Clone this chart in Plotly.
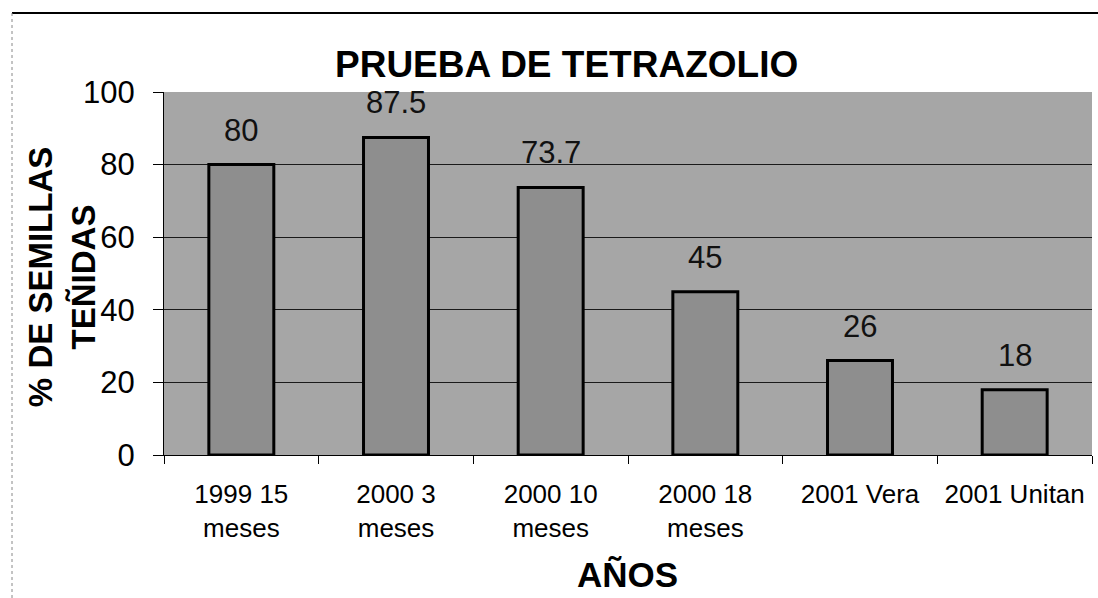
import plotly.graph_objects as go

categories = ["1999 15<br>meses", "2000 3<br>meses", "2000 10<br>meses", "2000 18<br>meses", "2001 Vera", "2001 Unitan"]
values = [80, 87.5, 73.7, 45, 26, 18]
labels = ["80", "87.5", "73.7", "45", "26", "18"]
y_ticks = [0, 20, 40, 60, 80, 100]

W, H = 1098, 598
L, R, T, B = 164, 6, 92, 143
PW, PH = W - L - R, H - T - B

fig = go.Figure(go.Bar(
    x=categories, y=values,
    marker=dict(color="#8e8e8e", line=dict(color="#000", width=3)),
    width=0.42,
))

for c, v, t in zip(categories, values, labels):
    fig.add_annotation(x=c, y=v, text=t, showarrow=False, yanchor="bottom", yshift=15,
                       font=dict(family="Liberation Sans, Arial", size=31, color="#111"))

fig.update_layout(
    width=W, height=H,
    margin=dict(l=L, r=R, t=T, b=B),
    paper_bgcolor="white", plot_bgcolor="#a6a6a6",
    showlegend=False,
    font=dict(family="Liberation Sans, Arial", color="#000"),
)
fig.add_annotation(text="<b>PRUEBA DE TETRAZOLIO</b>", xref="paper", yref="paper",
                   x=(566 - L) / PW, y=(H - B - 64) / PH, showarrow=False,
                   xanchor="center", yanchor="middle",
                   font=dict(family="Liberation Sans, Arial", size=37, color="#000"))
fig.add_annotation(text="<b>% DE SEMILLAS<br>TEÑIDAS</b>", xref="paper", yref="paper",
                   x=(62 - L) / PW, y=0.49, showarrow=False, textangle=-90,
                   xanchor="center", yanchor="middle",
                   font=dict(family="Liberation Sans, Arial", size=33, color="#000"))
fig.add_annotation(text="<b>AÑOS</b>", xref="paper", yref="paper",
                   x=(627 - L) / PW, y=(H - B - 574) / PH, showarrow=False,
                   xanchor="center", yanchor="middle",
                   font=dict(family="Liberation Sans, Arial", size=35, color="#000"))

fig.update_yaxes(range=[0, 100], tickvals=y_ticks, showgrid=True, gridcolor="#1a1a1a", gridwidth=1,
                 tickfont=dict(size=31), ticks="outside", ticklen=10, tickcolor="#000",
                 ticklabelstandoff=12,
                 showline=True, linecolor="#000", linewidth=1, zeroline=False)
fig.update_xaxes(tickfont=dict(size=26), ticks="outside", tickson="boundaries", ticklen=8, tickcolor="#000",
                 ticklabelstandoff=16,
                 showline=True, linecolor="#000", linewidth=1, tickangle=0)
fig.add_shape(type="line", xref="paper", yref="paper",
              x0=(12 - L) / PW, x1=(W - L) / PW, y0=(H - B - 13) / PH, y1=(H - B - 13) / PH,
              line=dict(color="#000", width=2))
fig.add_shape(type="line", xref="paper", yref="paper",
              x0=(12 - L) / PW, x1=(12 - L) / PW, y0=(H - B - 13) / PH, y1=(H - B - H) / PH,
              line=dict(color="#888", width=1, dash="dot"))

fig.write_html("out.html", config={"displayModeBar": False},
               post_script="document.body.style.margin='0';document.body.style.overflow='hidden';")
